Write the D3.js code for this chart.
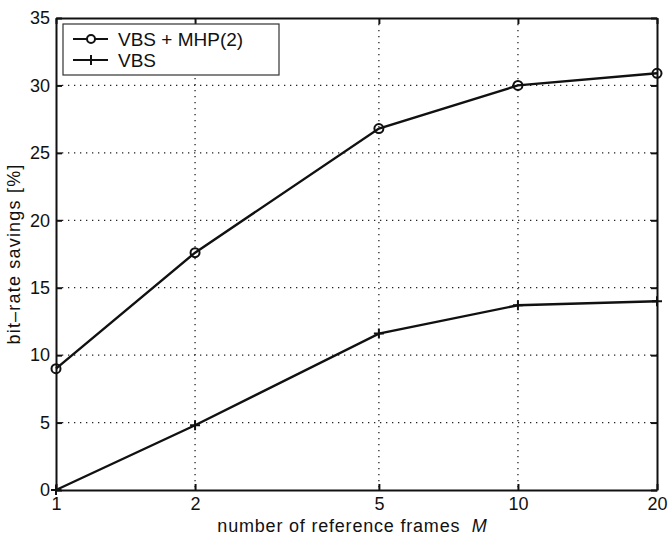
<!DOCTYPE html>
<html>
<head>
<meta charset="utf-8">
<script src="https://cdn.jsdelivr.net/npm/d3@7"></script>
<style>
  body { margin: 0; background: #fff; }
  text { font-family: "Liberation Sans", Arial, Helvetica, sans-serif; fill: #111; }
</style>
</head>
<body>
<svg id="chart" width="669" height="537"></svg>
<script>
var frames = [1, 2, 5, 10, 20];
var savingsMhp = [9.0, 17.6, 26.8, 30.0, 30.9];
var savingsVbs = [0.0, 4.8, 11.6, 13.7, 14.0];
var yTicks = [0, 5, 10, 15, 20, 25, 30, 35];
var seriesNames = ["VBS + MHP(2)", "VBS"];

var margin = {left: 56, top: 18, right: 12, bottom: 47};
var width = 669 - margin.left - margin.right;
var height = 537 - margin.top - margin.bottom;

var svg = d3.select("#chart");
var g = svg.append("g")
    .attr("transform", "translate(" + margin.left + "," + margin.top + ")");

var x = d3.scaleLog().domain([1, 20]).range([0, width]);
var y = d3.scaleLinear().domain([0, 35]).range([height, 0]);

/* grid */
g.selectAll(".gx").data(frames.slice(1, -1)).enter().append("line")
    .attr("x1", function (d) { return x(d); }).attr("x2", function (d) { return x(d); })
    .attr("y1", 0).attr("y2", height)
    .attr("stroke", "#222").attr("stroke-width", 1.3).attr("stroke-dasharray", "1.3,4.7");
g.selectAll(".gy").data(yTicks.slice(1, -1)).enter().append("line")
    .attr("x1", 0).attr("x2", width)
    .attr("y1", function (d) { return y(d); }).attr("y2", function (d) { return y(d); })
    .attr("stroke", "#222").attr("stroke-width", 1.3).attr("stroke-dasharray", "1.3,4.7");

/* axes */
var xAxis = g.append("g").attr("transform", "translate(0," + height + ")")
    .call(d3.axisBottom(x).tickValues(frames).tickFormat(d3.format("d")).tickSizeInner(-6).tickSizeOuter(0).tickPadding(7));
var yAxis = g.append("g")
    .call(d3.axisLeft(y).tickValues(yTicks).tickSizeInner(-6).tickSizeOuter(0).tickPadding(6));
g.append("g").call(d3.axisTop(x).tickValues(frames).tickFormat("").tickSizeInner(-6).tickSizeOuter(0));
g.append("g").attr("transform", "translate(" + width + ",0)")
    .call(d3.axisRight(y).tickValues(yTicks).tickFormat("").tickSizeInner(-6).tickSizeOuter(0));

g.selectAll(".domain").attr("stroke", "#111").attr("stroke-width", 2);
g.selectAll(".tick line").attr("stroke", "#111").attr("stroke-width", 2);
g.selectAll(".tick text").style("font-size", "18px").attr("fill", "#111");
xAxis.selectAll(".tick text").attr("dy", "0.71em");

/* lines */
var line = d3.line()
    .x(function (d) { return x(d[0]); })
    .y(function (d) { return y(d[1]); });

var mhpData = d3.zip(frames, savingsMhp);
var vbsData = d3.zip(frames, savingsVbs);

g.append("path").datum(mhpData).attr("d", line)
    .attr("fill", "none").attr("stroke", "#111").attr("stroke-width", 2.4);
g.append("path").datum(vbsData).attr("d", line)
    .attr("fill", "none").attr("stroke", "#111").attr("stroke-width", 2.4);

g.selectAll(".mhp").data(mhpData).enter().append("circle")
    .attr("cx", function (d) { return x(d[0]); })
    .attr("cy", function (d) { return y(d[1]); })
    .attr("r", 4.5).attr("fill", "none").attr("stroke", "#111").attr("stroke-width", 2);

g.selectAll(".vbs").data(vbsData).enter().append("path")
    .attr("transform", function (d) { return "translate(" + x(d[0]) + "," + y(d[1]) + ")"; })
    .attr("d", "M-5,0H5M0,-5V5")
    .attr("stroke", "#111").attr("stroke-width", 2);

/* legend */
var leg = g.append("g").attr("transform", "translate(7,6)");
leg.append("rect").attr("width", 216).attr("height", 51)
    .attr("fill", "#fff").attr("stroke", "#333").attr("stroke-width", 1.2);
seriesNames.forEach(function (name, i) {
    var ly = 15 + i * 21;
    leg.append("line").attr("x1", 10).attr("x2", 45).attr("y1", ly).attr("y2", ly)
        .attr("stroke", "#111").attr("stroke-width", 2.2);
    if (i === 0) {
        leg.append("circle").attr("cx", 28).attr("cy", ly).attr("r", 4)
            .attr("fill", "#fff").attr("stroke", "#111").attr("stroke-width", 2);
    } else {
        leg.append("path").attr("transform", "translate(28," + ly + ")")
            .attr("d", "M-5,0H5M0,-5V5").attr("stroke", "#111").attr("stroke-width", 2);
    }
    leg.append("text").attr("x", 55).attr("y", ly).attr("dy", "0.36em")
        .style("font-size", "19px").text(name);
});

/* labels */
var xl = svg.append("text")
    .attr("x", margin.left + width / 2 - 4).attr("y", 532)
    .attr("text-anchor", "middle").style("font-size", "18px").style("letter-spacing", "0.8px");
xl.append("tspan").text("number of reference frames\u00a0\u00a0");
xl.append("tspan").style("font-style", "italic").text("M");

svg.append("text")
    .attr("transform", "translate(20," + (margin.top + height / 2) + ") rotate(-90)")
    .attr("text-anchor", "middle").style("font-size", "18px").style("letter-spacing", "1.2px")
    .text("bit\u2013rate savings [%]");
</script>
</body>
</html>
